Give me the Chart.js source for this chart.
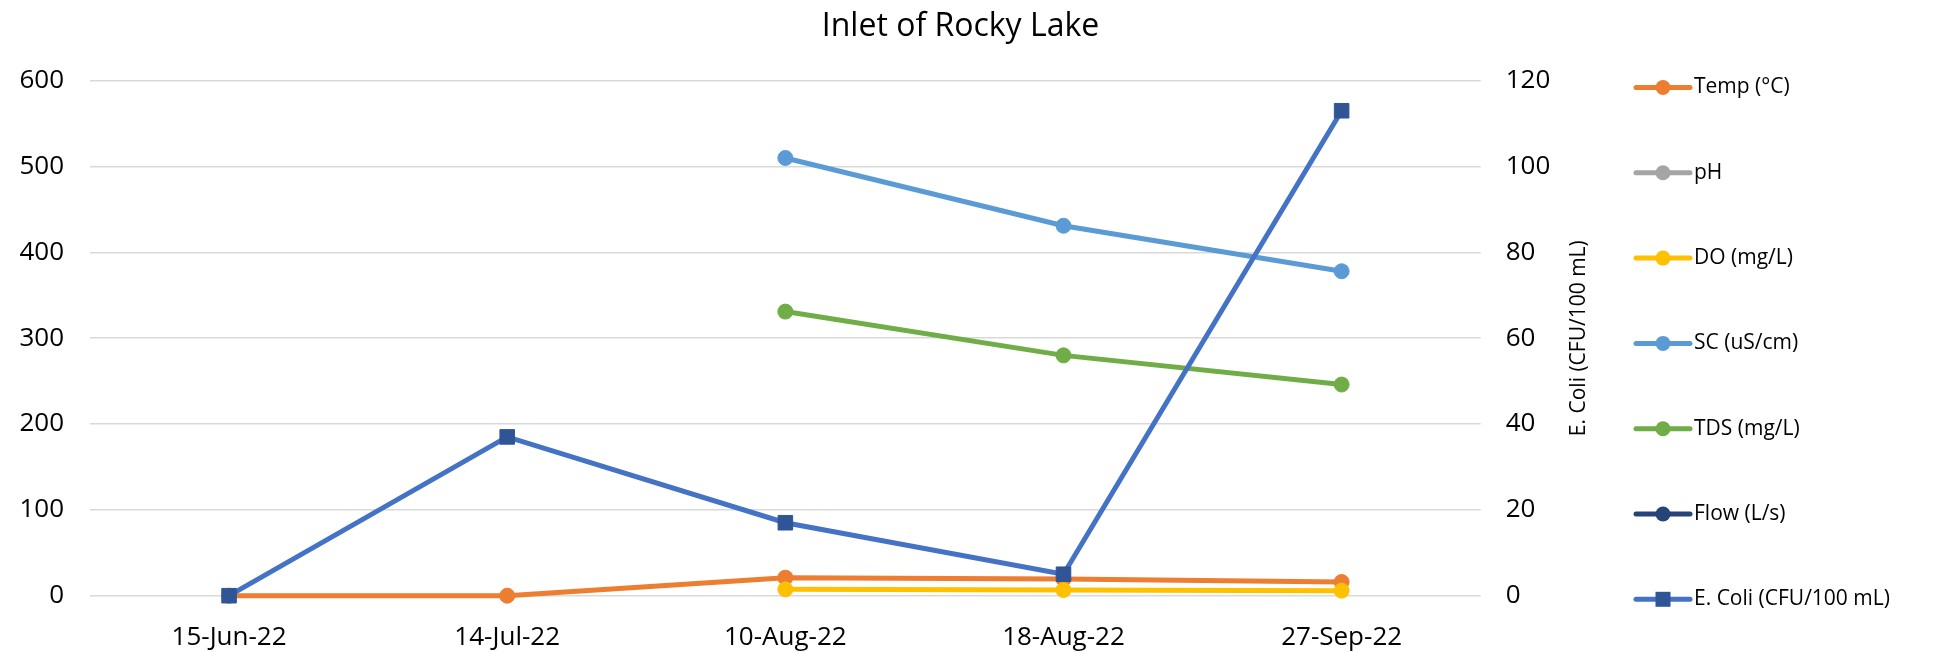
<!DOCTYPE html>
<html>
<head>
<meta charset="utf-8">
<script src="https://cdn.jsdelivr.net/npm/chart.js@4/dist/chart.umd.min.js"></script>
<style>
  html, body { margin: 0; padding: 0; background: #fff; }
  canvas { display: block; }
</style>
</head>
<body>
<canvas id="chart" width="1933" height="652"></canvas>
<script>
// Sampling dates and measured values for the inlet station
const sampleDates = ['15-Jun-22', '14-Jul-22', '10-Aug-22', '18-Aug-22', '27-Sep-22'];
const tempC   = [0, 0, 21, 19.5, 16];
const phUnits = [null, null, null, null, null];
const doMgL   = [null, null, 7.4, 6.6, 5.9];
const scUsCm  = [null, null, 510, 431, 378];
const tdsMgL  = [null, null, 331, 280, 246];
const flowLs  = [null, null, null, null, null];
const eColi   = [0, 37, 17, 5, 113];

const seriesNames = ['Temp (°C)', 'pH', 'DO (mg/L)', 'SC (uS/cm)', 'TDS (mg/L)', 'Flow (L/s)', 'E. Coli (CFU/100 mL)'];
const chartTitle = 'Inlet of Rocky Lake';
const rightAxisTitle = 'E. Coli (CFU/100 mL)';

// Axis ranges
const leftAxisMax = 600, leftAxisStep = 100;
const rightAxisMax = 120, rightAxisStep = 20;

const FONT = "'Open Sans', 'Noto Sans', sans-serif";
Chart.defaults.font.family = FONT;
Chart.defaults.color = '#000';

const colors = ['#ED7D31', '#A5A5A5', '#FFC000', '#5B9BD5', '#70AD47', '#264478', '#4472C4'];

function lineSeries(i, data) {
  return {
    label: seriesNames[i],
    data: data,
    yAxisID: 'y',
    borderColor: colors[i],
    backgroundColor: colors[i],
    borderWidth: 5,
    pointStyle: 'circle',
    pointRadius: 7.5,
    pointHoverRadius: 7.5,
    pointBorderWidth: 1,
    pointBackgroundColor: colors[i],
    pointBorderColor: colors[i],
    tension: 0,
    spanGaps: false,
    clip: false,
    order: seriesNames.length - i
  };
}

const datasets = [
  lineSeries(0, tempC),
  lineSeries(1, phUnits),
  lineSeries(2, doMgL),
  lineSeries(3, scUsCm),
  lineSeries(4, tdsMgL),
  lineSeries(5, flowLs),
  Object.assign(lineSeries(6, eColi), {
    yAxisID: 'y1',
    pointStyle: 'rect',
    pointRadius: 10.3,
    pointHoverRadius: 10.3,
    pointBackgroundColor: '#2F5597',
    pointBorderColor: '#2F5597',
    order: 0
  })
];

// Right-hand axis caption (reads bottom to top) and the series key
const sideLabels = {
  id: 'sideLabels',
  afterDraw(chart) {
    const ctx = chart.ctx;
    const area = chart.chartArea;
    ctx.save();
    ctx.font = '21px ' + FONT;
    ctx.fillStyle = '#000';
    ctx.translate(area.right + 98, (area.top + area.bottom) / 2);
    ctx.rotate(-Math.PI / 2);
    ctx.textAlign = 'center';
    ctx.textBaseline = 'middle';
    ctx.fillText(rightAxisTitle, 0, 0);
    ctx.restore();

    const x0 = 1636, x1 = 1690, textX = 1694, top = 87.5, gap = 85.3;
    chart.data.datasets.forEach((ds, i) => {
      const y = top + i * gap;
      ctx.save();
      ctx.strokeStyle = ds.borderColor;
      ctx.lineWidth = ds.borderWidth;
      ctx.lineCap = 'round';
      ctx.beginPath();
      ctx.moveTo(x0, y);
      ctx.lineTo(x1, y);
      ctx.stroke();
      ctx.fillStyle = ds.pointBackgroundColor;
      const cx = (x0 + x1) / 2;
      if (ds.pointStyle === 'rect') {
        ctx.fillRect(cx - 7.5, y - 7.5, 15, 15);
      } else {
        ctx.beginPath();
        ctx.arc(cx, y, 7.5, 0, Math.PI * 2);
        ctx.fill();
      }
      ctx.font = '21px ' + FONT;
      ctx.fillStyle = '#000';
      ctx.textAlign = 'left';
      ctx.textBaseline = 'middle';
      ctx.fillText(ds.label, textX, y);
      ctx.restore();
    });
  }
};

new Chart(document.getElementById('chart'), {
  type: 'line',
  data: { labels: sampleDates, datasets: datasets },
  plugins: [sideLabels],
  options: {
    responsive: false,
    animation: false,
    devicePixelRatio: 1,
    events: [],
    layout: { padding: { left: 0, right: 12, top: 0, bottom: 0 } },
    plugins: {
      legend: { display: false },
      tooltip: { enabled: false },
      title: {
        display: true,
        text: chartTitle,
        color: '#000',
        font: { size: 32, weight: 'normal', family: FONT },
        padding: { top: 7.8, bottom: 34.5 }
      }
    },
    scales: {
      x: {
        offset: true,
        grid: { display: false, drawTicks: false },
        border: { display: false },
        ticks: { padding: 26, font: { size: 26 }, color: '#000', maxRotation: 0, autoSkip: false },
        afterFit(s) { s.height = 56.3; }
      },
      y: {
        position: 'left',
        min: 0, max: leftAxisMax,
        ticks: { stepSize: leftAxisStep, padding: 26, font: { size: 26 }, color: '#000' },
        grid: { color: '#D9D9D9', lineWidth: 1.5, drawTicks: false },
        border: { display: false },
        afterFit(s) { s.width = 90; }
      },
      y1: {
        position: 'right',
        min: 0, max: rightAxisMax,
        ticks: { stepSize: rightAxisStep, padding: 25, font: { size: 26 }, color: '#000' },
        grid: { display: false, drawTicks: false },
        border: { display: false },
        afterFit(s) { s.width = 440.3; }
      }
    }
  }
});
</script>
</body>
</html>
